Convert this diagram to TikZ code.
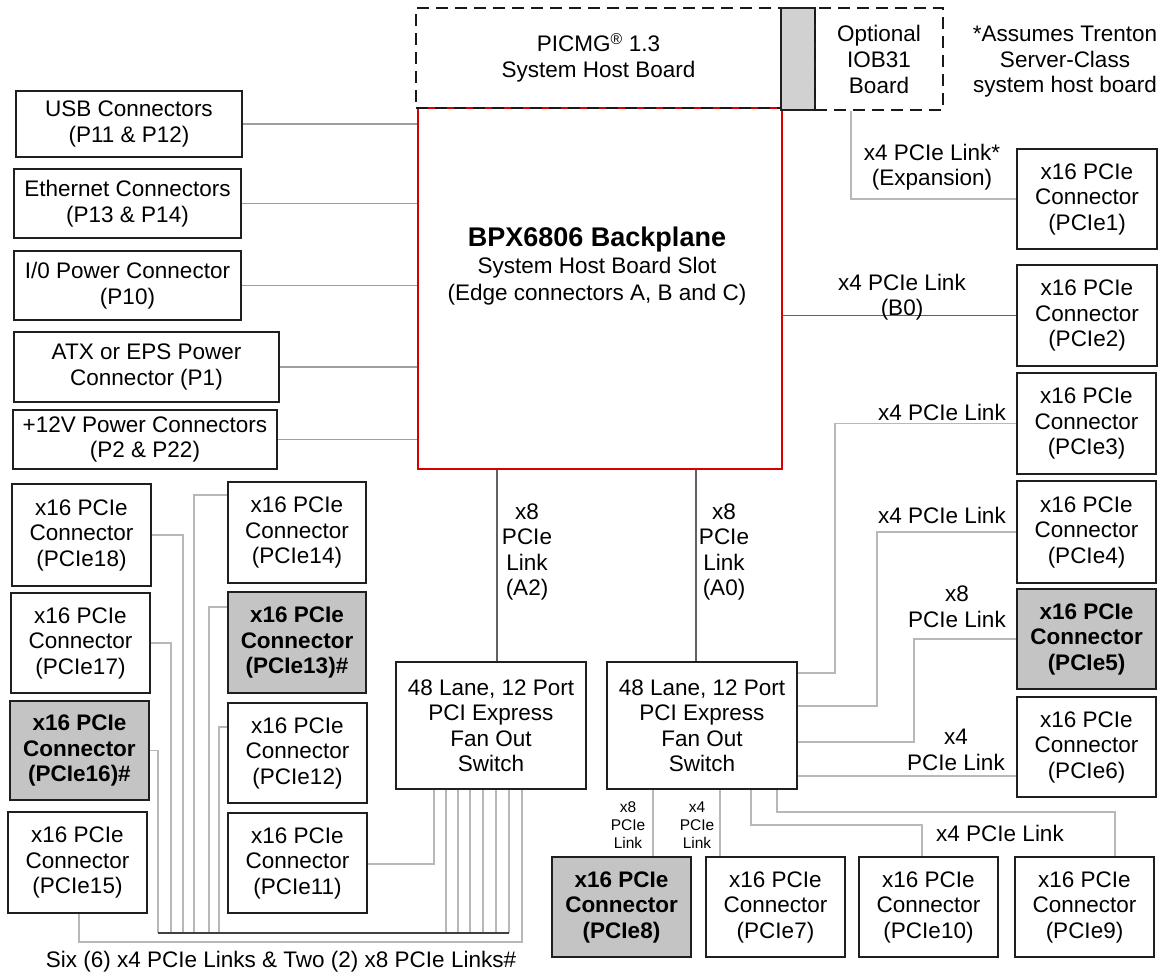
\documentclass[tikz,border=0pt]{standalone}
\usepackage{fontspec}
\setmainfont{Liberation Sans}
\usetikzlibrary{backgrounds}
\newcommand\mkbox[7]{%
  \pgfmathsetmacro\mkw{#5-#3}%
  \pgfmathsetmacro\mkh{#6-#4}%
  \node[#1, minimum width=\mkw pt, minimum height=\mkh pt] (#2) at ({(#3+#5)/2},{(#4+#6)/2}) {#7};}
\tikzset{
  cbox/.style={draw=black!88, line width=2.4pt, fill=white, align=center, inner sep=0pt,
    font=\fontsize{22.5}{25.5}\selectfont},
  gbox/.style={cbox, fill=black!23, font=\fontsize{22.5}{25.5}\selectfont\bfseries},
  dbox/.style={draw=black!90, line width=2.4pt, dash pattern=on 12pt off 7pt, align=center,
    inner sep=0pt, font=\fontsize{22.5}{26}\selectfont},
  lk/.style={draw=black!28, line width=1.4pt},
  lkl/.style={draw=black!38, line width=1.2pt},
  lkd/.style={draw=black!62, line width=1.5pt},
  bus/.style={draw=black!75, line width=2.6pt},
  txt/.style={align=center, inner sep=0pt, font=\fontsize{22.5}{25.5}\selectfont},
  stxt/.style={align=center, inner sep=0pt, font=\fontsize{15.5}{18}\selectfont},
}
\begin{document}
\begin{tikzpicture}[x=1pt,y=-1pt]
\useasboundingbox (0,0) rectangle (1165,979);
% backplane
\mkbox{draw=red!85!black, line width=2pt}{bp}{418}{108}{782}{469}{}
\node[txt, font=\fontsize{27}{30}\selectfont\bfseries] (bpt) at (597,240) {BPX6806 Backplane};
\node[txt, font=\fontsize{22.5}{26.5}\selectfont] (bps) at (597,281) {System Host Board Slot\\(Edge connectors A, B and C)};
% top
\mkbox{dbox}{picmg}{416}{8}{781}{108}{PICMG\textsuperscript{®} 1.3\\System Host Board}
\mkbox{draw=black!88, line width=2.4pt, fill=black!18}{strip}{781}{8}{815}{110}{}
\mkbox{dbox}{iob}{815}{8}{943}{110}{Optional\\IOB31\\Board}
\node[txt] (note) at (1065,62) {*Assumes Trenton\\Server-Class\\system host board};
% left boxes
\mkbox{cbox}{usb}{16}{91}{242}{157}{USB Connectors\\(P11 \& P12)}
\mkbox{cbox}{eth}{14}{169}{241}{238}{Ethernet Connectors\\(P13 \& P14)}
\mkbox{cbox}{io}{14}{251}{241}{320}{I/0 Power Connector\\(P10)}
\mkbox{cbox}{atx}{14}{332}{279}{402}{ATX or EPS Power\\Connector (P1)}
\mkbox{cbox}{pw12}{13}{410}{277}{469}{+12V Power Connectors\\(P2 \& P22)}
% left PCIe
\mkbox{cbox}{p18}{12}{484}{151}{586}{x16 PCIe\\Connector\\(PCIe18)}
\mkbox{cbox}{p17}{11}{593}{150}{693}{x16 PCIe\\Connector\\(PCIe17)}
\mkbox{gbox}{p16}{10}{701}{149}{800}{x16 PCIe\\Connector\\(PCIe16)\#}
\mkbox{cbox}{p15}{8}{812}{147}{913}{x16 PCIe\\Connector\\(PCIe15)}
\mkbox{cbox}{p14}{228}{482}{366}{583}{x16 PCIe\\Connector\\(PCIe14)}
\mkbox{gbox}{p13}{228}{592}{366}{693}{x16 PCIe\\Connector\\(PCIe13)\#}
\mkbox{cbox}{p12}{228}{703}{367}{803}{x16 PCIe\\Connector\\(PCIe12)}
\mkbox{cbox}{p11}{228}{813}{367}{913}{x16 PCIe\\Connector\\(PCIe11)}
% switches
\mkbox{cbox}{sw1}{396}{662}{586}{789}{48 Lane, 12 Port\\PCI Express\\Fan Out\\Switch}
\mkbox{cbox}{sw2}{607}{662}{797}{789}{48 Lane, 12 Port\\PCI Express\\Fan Out\\Switch}
% right column
\mkbox{cbox}{p1}{1017}{149}{1157}{249}{x16 PCIe\\Connector\\(PCIe1)}
\mkbox{cbox}{p2}{1017}{265}{1157}{366}{x16 PCIe\\Connector\\(PCIe2)}
\mkbox{cbox}{p3}{1017}{373}{1156}{474}{x16 PCIe\\Connector\\(PCIe3)}
\mkbox{cbox}{p4}{1017}{481}{1156}{583}{x16 PCIe\\Connector\\(PCIe4)}
\mkbox{gbox}{p5}{1017}{589}{1156}{689}{x16 PCIe\\Connector\\(PCIe5)}
\mkbox{cbox}{p6}{1017}{697}{1156}{797}{x16 PCIe\\Connector\\(PCIe6)}
% bottom row
\mkbox{gbox}{p8}{552}{857}{691}{957}{x16 PCIe\\Connector\\(PCIe8)}
\mkbox{cbox}{p7}{706}{857}{845}{957}{x16 PCIe\\Connector\\(PCIe7)}
\mkbox{cbox}{p10}{859}{857}{998}{957}{x16 PCIe\\Connector\\(PCIe10)}
\mkbox{cbox}{p9}{1015}{857}{1154}{957}{x16 PCIe\\Connector\\(PCIe9)}
% labels
\node[txt] (lexp) at (932,167) {x4 PCIe Link*\\(Expansion)};
\node[txt] (lb0) at (902,297) {x4 PCIe Link\\(B0)};
\node[txt] (l3) at (942,412) {x4 PCIe Link};
\node[txt] (l4) at (942,515) {x4 PCIe Link};
\node[txt] (l5) at (957,607) {x8\\PCIe Link};
\node[txt] (l6) at (956,750) {x4\\PCIe Link};
\node[txt] (l910) at (1000,833) {x4 PCIe Link};
\node[txt] (la2) at (527,552) {x8\\PCIe\\Link\\(A2)};
\node[txt] (la0) at (724,552) {x8\\PCIe\\Link\\(A0)};
\node[stxt] (l8) at (628,825) {x8\\PCIe\\Link};
\node[stxt] (l7) at (697,825) {x4\\PCIe\\Link};
\node[txt] (lsix) at (281,962) {Six (6) x4 PCIe Links \& Two (2) x8 PCIe Links\#};
% connectors
\begin{scope}[on background layer]
\foreach \n in {usb,eth,io,atx,pw12} \draw[lkl] (\n.east) -- (\n.east -| bp.west);
\coordinate (a2x) at (497,0);
\coordinate (a0x) at (696,0);
\draw[lkd] (bp.south -| a2x) -- (sw1.north -| a2x);
\draw[lkd] (bp.south -| a0x) -- (sw2.north -| a0x);
\draw[lkd] (bp.east |- p2.west) -- (p2.west);
\coordinate (ex) at (851,0);
\draw[lk] (iob.south -| ex) |- (p1.west);
\coordinate (r3) at (835,673);
\draw[lk] (sw2.east |- r3) -- (r3) |- (p3.west);
\coordinate (r4) at (877,706);
\draw[lk] (sw2.east |- r4) -- (r4) |- (p4.west);
\coordinate (r5) at (914,742);
\draw[lk] (sw2.east |- r5) -- (r5) |- (p5.west);
\coordinate (r6) at (0,776);
\draw[lk] (sw2.east |- r6) -- (p6.west |- r6);
\coordinate (b8) at (653,0);
\draw[lk] (sw2.south -| b8) -- (p8.north -| b8);
\coordinate (b7) at (720,0);
\draw[lk] (sw2.south -| b7) -- (p7.north -| b7);
\coordinate (b10a) at (751,825);
\coordinate (b10b) at (922,825);
\draw[lk] (sw2.south -| b10a) -- (b10a) -- (b10b) -- (p10.north -| b10b);
\coordinate (b9a) at (777,812);
\coordinate (b9b) at (1115,812);
\draw[lk] (sw2.south -| b9a) -- (b9a) -- (b9b) -- (p9.north -| b9b);
\coordinate (k11) at (434,864);
\draw[lk] (sw1.south -| k11) -- (k11) -- (p11.east |- k11);
\foreach \x [count=\i] in {446,458,470,483,496,509} {
  \coordinate (s\i) at (\x,933);
  \draw[lk] (sw1.south -| s\i) -- (s\i);
}
\coordinate (v16) at (158,933);
\draw[lk] (p16.east) -| (v16);
\coordinate (v17) at (171,933);
\draw[lk] (p17.east) -| (v17);
\coordinate (v18) at (183,933);
\draw[lk] (p18.east) -| (v18);
\coordinate (c14) at (194,495);
\coordinate (d14) at (194,933);
\draw[lk] (p14.west |- c14) -- (c14) -- (d14);
\coordinate (c13) at (209,607);
\coordinate (d13) at (209,933);
\draw[lk] (p13.west |- c13) -- (c13) -- (d13);
\coordinate (c12) at (219,727);
\coordinate (d12) at (219,933);
\draw[lk] (p12.west |- c12) -- (c12) -- (d12);
\coordinate (k15a) at (79,942);
\coordinate (k15b) at (522,942);
\draw[lk] (p15.south -| k15a) -- (k15a) -- (k15b) -- (sw1.south -| k15b);
\end{scope}
\draw[bus] (v16) -- (s6);
\end{tikzpicture}
\end{document}
